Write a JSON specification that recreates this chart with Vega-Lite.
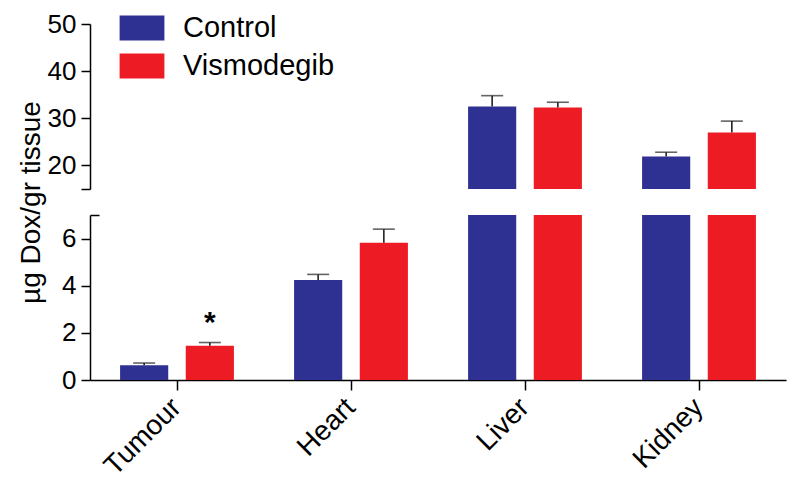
{
  "$schema": "https://vega.github.io/schema/vega-lite/v6.json",
  "background": "white",
  "autosize": {"type": "none"},
  "padding": {"left": 90, "top": 24, "right": 14, "bottom": 108},
  "width": 696,
  "height": 356,
  "data": {"values": [
      {"organ": "Tumour", "group": "Control", "value": 0.63, "upper": 0.72, "sig": ""},
      {"organ": "Tumour", "group": "Vismodegib", "value": 1.45, "upper": 1.59, "sig": "*"},
      {"organ": "Heart", "group": "Control", "value": 4.24, "upper": 4.48, "sig": ""},
      {"organ": "Heart", "group": "Vismodegib", "value": 5.82, "upper": 6.4, "sig": ""},
      {"organ": "Liver", "group": "Control", "value": 32.5, "upper": 34.8, "sig": ""},
      {"organ": "Liver", "group": "Vismodegib", "value": 32.3, "upper": 33.4, "sig": ""},
      {"organ": "Kidney", "group": "Control", "value": 21.9, "upper": 22.8, "sig": ""},
      {"organ": "Kidney", "group": "Vismodegib", "value": 27.0, "upper": 29.4, "sig": ""}
  ]},
  "config": {
    "font": "Liberation Sans",
    "view": {"stroke": null},
    "axis": {"grid": false, "domainColor": "#000", "domainWidth": 1.5, "tickColor": "#000", "tickWidth": 1.5, "tickSize": 9, "labelColor": "#000", "labelFont": "Liberation Sans", "titleFont": "Liberation Sans", "titleColor": "#000", "titleFontWeight": "normal"}
  },
  "encoding": {
    "x": {"field": "organ", "type": "nominal", "sort": ["Tumour", "Heart", "Liver", "Kidney"], "scale": {"paddingInner": 0, "paddingOuter": 0},
      "axis": {"title": null, "labelAngle": -45, "labelFontSize": 28, "labelPadding": 13, "labelBaseline": "middle", "tickSize": 10}},
    "xOffset": {"field": "group", "type": "nominal", "scale": {"paddingInner": 0.267, "paddingOuter": 0.458}},
    "color": {"field": "group", "type": "nominal", "scale": {"domain": ["Control", "Vismodegib"], "range": ["#2E3192", "#ED1C24"]},
      "legend": {"title": null, "orient": "none", "legendX": 36, "legendY": -12, "symbolType": "M-1.4,-0.78L1.4,-0.78L1.4,0.78L-1.4,0.78Z", "symbolSize": 1024, "symbolStrokeWidth": 0, "symbolOpacity": 1, "labelFontSize": 29, "labelOffset": 25, "rowPadding": 7, "labelColor": "#000"}}
  },
  "layer": [
    {
      "encoding": {
        "y": {"field": "value", "type": "quantitative", "scale": {"domain": [0, 7], "nice": false, "range": [356, 191], "clamp": true},
          "axis": {"orient": "left", "values": [0, 2, 4, 6, 7, 7], "labelExpr": "datum.value == 7 ? '' : datum.label", "tickSize": {"condition": {"test": "datum.index == 1", "value": -9}, "value": 9}, "labelFontSize": 26, "labelPadding": 5, "title": "µg Dox/gr tissue", "titleFontSize": 28, "titleY": 178, "titlePadding": 16}}
      },
      "layer": [
        {
          "mark": {"type": "bar"},
          "encoding": {"y2": {"datum": 0}}
        },
        {
          "transform": [{"filter": "datum.upper < 7"}],
          "mark": {"type": "rule", "color": "#222", "strokeWidth": 1.6},
          "encoding": {"y2": {"field": "upper"}, "color": {"value": "#222"}}
        },
        {
          "transform": [{"filter": "datum.upper < 7"}],
          "mark": {"type": "tick", "color": "#222", "thickness": 1.6, "size": 22, "orient": "horizontal"},
          "encoding": {"y": {"field": "upper", "type": "quantitative"}, "color": {"value": "#222"}}
        },
        {
          "transform": [{"filter": "datum.sig != ''"}],
          "mark": {"type": "text", "fontSize": 30, "fontWeight": "bold", "dy": -20, "baseline": "middle"},
          "encoding": {"y": {"field": "upper", "type": "quantitative"}, "text": {"field": "sig"}, "color": {"value": "#000"}}
        }
      ]
    },
    {
      "encoding": {
        "y": {"field": "value", "type": "quantitative", "scale": {"domain": [15, 50], "nice": false, "zero": false, "range": [165, 0], "clamp": true},
          "axis": {"orient": "left", "values": [15, 15, 20, 30, 40, 50], "labelExpr": "datum.value == 15 ? '' : datum.label", "tickSize": {"condition": {"test": "datum.index == 0", "value": -9}, "value": 9}, "labelFontSize": 26, "labelPadding": 5, "title": null}}
      },
      "layer": [
        {
          "transform": [{"filter": "datum.value > 15"}],
          "mark": {"type": "bar"},
          "encoding": {"y2": {"datum": 15}}
        },
        {
          "transform": [{"filter": "datum.value > 15"}],
          "mark": {"type": "rule", "color": "#222", "strokeWidth": 1.6},
          "encoding": {"y2": {"field": "upper"}, "color": {"value": "#222"}}
        },
        {
          "transform": [{"filter": "datum.value > 15"}],
          "mark": {"type": "tick", "color": "#222", "thickness": 1.6, "size": 22, "orient": "horizontal"},
          "encoding": {"y": {"field": "upper", "type": "quantitative"}, "color": {"value": "#222"}}
        }
      ]
    }
  ],
  "resolve": {"scale": {"y": "independent"}, "axis": {"y": "independent"}}
}
